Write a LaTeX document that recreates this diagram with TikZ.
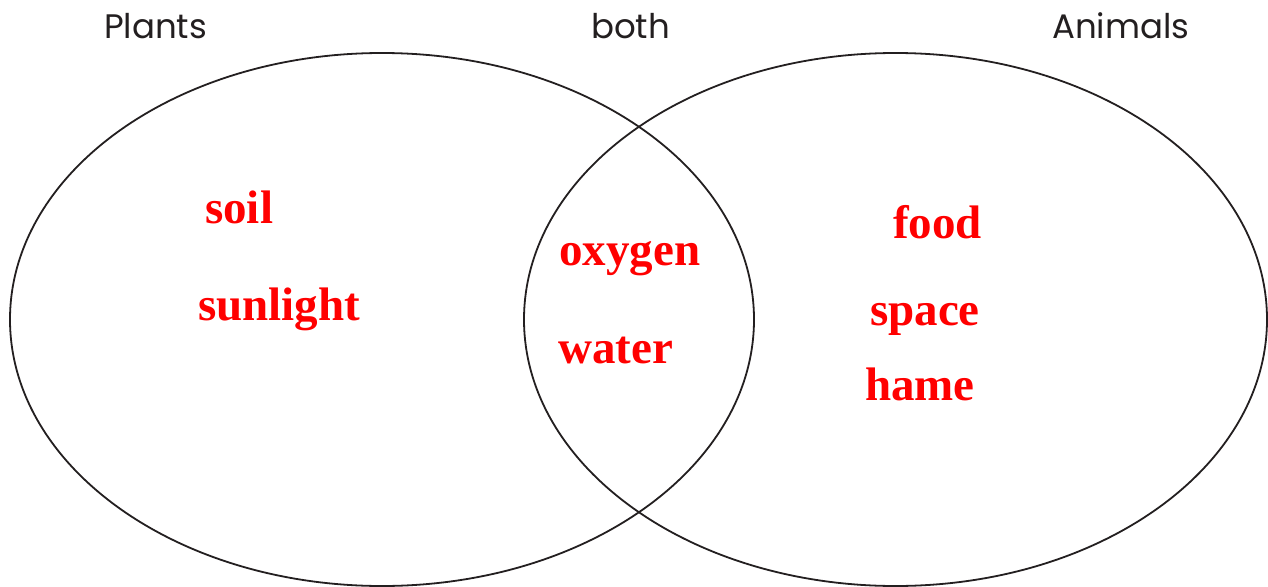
\documentclass[tikz,border=0pt]{standalone}
\usepackage{fontspec}
\setmainfont{Liberation Serif}
\newfontfamily\labelfont{Poppins}
\definecolor{inkgray}{RGB}{35,31,32}
\definecolor{wordred}{RGB}{255,0,0}
\begin{document}
\begin{tikzpicture}[x=1pt,y=-1pt,
  setline/.style={draw=inkgray,line width=1.8pt},
  heading/.style={anchor=base west,inner sep=0pt,text=inkgray,font=\labelfont\fontsize{34}{40}\selectfont},
  word/.style={anchor=base west,inner sep=0pt,text=wordred,font=\bfseries\fontsize{47}{56}\selectfont}]
\useasboundingbox[fill=white] (0,0) rectangle (1268,586);
\draw[setline] (382,319.5) ellipse [x radius=372, y radius=266.5];
\draw[setline] (895.5,319.5) ellipse [x radius=371.5, y radius=266.5];
\node[heading] (plants) at (104,38) {Plants};
\node[heading] (both) at (591,38) {both};
\node[heading] (animals) at (1052,38) {Animals};
\node[word] (soil) at (205,223) {soil};
\node[word] (sunlight) at (198,320) {sunlight};
\node[word] (oxygen) at (559,265) {oxygen};
\node[word] (water) at (558,363) {water};
\node[word] (food) at (893,238) {food};
\node[word] (space) at (870,325) {space};
\node[word] (hame) at (865,400) {hame};
\end{tikzpicture}
\end{document}
